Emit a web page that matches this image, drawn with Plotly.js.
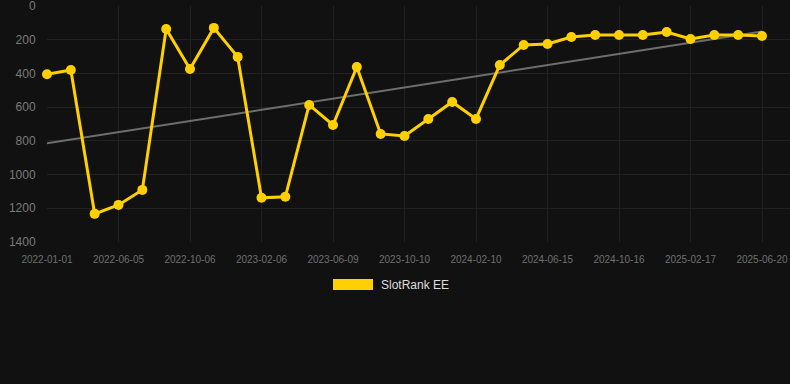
<!DOCTYPE html>
<html>
<head>
<meta charset="utf-8">
<script src="https://cdn.plot.ly/plotly-3.0.1.min.js"></script>
<style>
  html, body { margin: 0; padding: 0; background: #111111; }
  #chart { width: 790px; height: 384px; }
</style>
</head>
<body>
<div id="chart"></div>
<script>
// Rank per period (lower is better)
const ranks = [405, 380, 1233, 1180, 1091, 136, 374, 130, 302, 1138, 1132, 587, 706, 362, 759,
               771, 670, 569, 670, 350, 231, 225, 184, 172, 172, 172, 154, 196, 172, 172, 178];
// Date labels shown on every third period
const tickLabels = ['2022-01-01', '2022-06-05', '2022-10-06', '2023-02-06', '2023-06-09', '2023-10-10',
                    '2024-02-10', '2024-06-15', '2024-10-16', '2025-02-17', '2025-06-20'];
const tickStep = 3;
const seriesName = 'SlotRank EE';
const yTicks = [0, 200, 400, 600, 800, 1000, 1200, 1400];

const xs = ranks.map((_, i) => i);
const tickVals = tickLabels.map((_, i) => i * tickStep);

// linear trend (least squares)
const n = ranks.length;
const mx = xs.reduce((a, b) => a + b, 0) / n;
const my = ranks.reduce((a, b) => a + b, 0) / n;
let sxy = 0, sxx = 0;
for (let i = 0; i < n; i++) { sxy += (xs[i] - mx) * (ranks[i] - my); sxx += (xs[i] - mx) ** 2; }
const slope = sxy / sxx, icpt = my - slope * mx;
const trendX = [xs[0], xs[n - 1]];
const trendY = trendX.map(x => icpt + slope * x);

const gold = '#FFD000';
const traces = [
  { x: trendX, y: trendY, mode: 'lines', line: { color: '#6e6e6e', width: 2 }, showlegend: false,
    hoverinfo: 'skip', cliponaxis: false },
  { x: xs, y: ranks, mode: 'lines+markers', name: seriesName, cliponaxis: false,
    line: { color: gold, width: 3 }, marker: { color: gold, size: 10 }, showlegend: false }
];

const plotL = 47, plotR = 790, plotT = 6, plotB = 242, H = 384;
const pw = plotR - plotL, ph = plotB - plotT;
const px2x = p => (p - plotL) / pw;
const py2y = p => (plotB - p) / ph;
const stepPx = (762 - 47) / 30;

const layout = {
  width: 790, height: 384,
  paper_bgcolor: '#111111', plot_bgcolor: '#111111',
  margin: { l: plotL, r: 790 - plotR, t: plotT, b: H - plotB, pad: 0 },
  font: { family: 'Liberation Sans, Arial, sans-serif', color: '#7a7a7a' },
  xaxis: {
    range: [0, 30 + (plotR - 762) / stepPx],
    tickvals: tickVals, ticktext: tickLabels,
    showgrid: true, gridcolor: '#222222', gridwidth: 1,
    zeroline: false, showline: false,
    ticks: 'outside', ticklen: 8, tickcolor: 'rgba(0,0,0,0)',
    ticklabeloverflow: 'allow',
    tickfont: { size: 10, color: '#6f6f6f' }
  },
  yaxis: {
    range: [1400, 0], tickvals: yTicks,
    showgrid: true, gridcolor: '#222222', gridwidth: 1,
    zeroline: false, showline: false,
    ticks: 'outside', ticklen: 8, tickcolor: 'rgba(0,0,0,0)',
    ticklabeloverflow: 'allow',
    tickfont: { size: 12, color: '#7a7a7a' }
  },
  showlegend: false,
  shapes: [
    { type: 'rect', xref: 'paper', yref: 'paper',
      x0: px2x(333), x1: px2x(373), y0: py2y(290), y1: py2y(279),
      fillcolor: gold, line: { width: 0 } }
  ],
  annotations: [
    { xref: 'paper', yref: 'paper', x: px2x(379), y: py2y(284.5), xanchor: 'left', yanchor: 'middle',
      text: seriesName, showarrow: false, font: { size: 12, color: '#dddddd' } }
  ]
};

Plotly.newPlot('chart', traces, layout, { displayModeBar: false, staticPlot: true });
</script>
</body>
</html>
